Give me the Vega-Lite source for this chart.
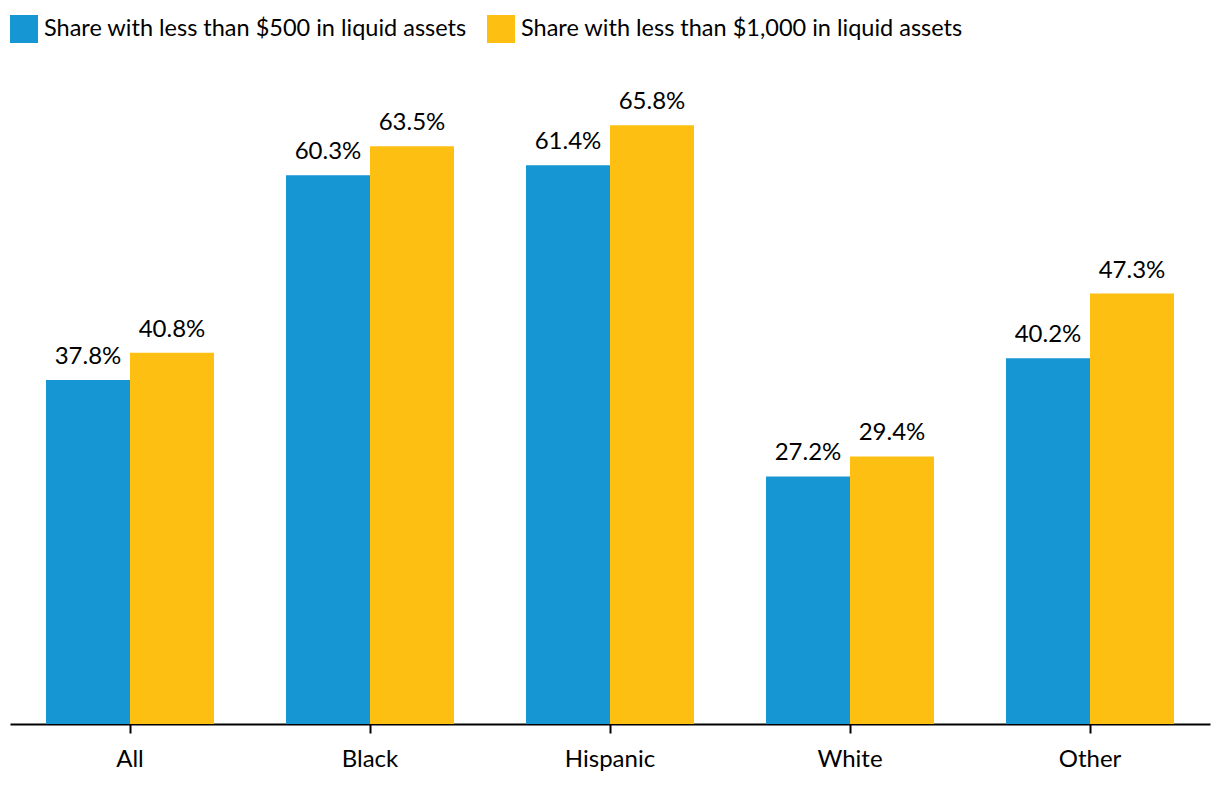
{
  "$schema": "https://vega.github.io/schema/vega-lite/v6.json",
  "autosize": {"type": "none"},
  "width": 1200,
  "height": 637,
  "padding": {"left": 10, "top": 87, "right": 10, "bottom": 68},
  "background": "white",
  "config": {
    "view": {"stroke": null},
    "font": "Lato",
    "text": {"font": "Lato"}
  },
  "data": {
    "values": [
      {"group": "All", "series": "Share with less than $500 in liquid assets", "value": 0.378},
      {"group": "All", "series": "Share with less than $1,000 in liquid assets", "value": 0.408},
      {"group": "Black", "series": "Share with less than $500 in liquid assets", "value": 0.603},
      {"group": "Black", "series": "Share with less than $1,000 in liquid assets", "value": 0.635},
      {"group": "Hispanic", "series": "Share with less than $500 in liquid assets", "value": 0.614},
      {"group": "Hispanic", "series": "Share with less than $1,000 in liquid assets", "value": 0.658},
      {"group": "White", "series": "Share with less than $500 in liquid assets", "value": 0.272},
      {"group": "White", "series": "Share with less than $1,000 in liquid assets", "value": 0.294},
      {"group": "Other", "series": "Share with less than $500 in liquid assets", "value": 0.402},
      {"group": "Other", "series": "Share with less than $1,000 in liquid assets", "value": 0.473}
    ]
  },
  "encoding": {
    "x": {
      "field": "group",
      "type": "nominal",
      "sort": ["All", "Black", "Hispanic", "White", "Other"],
      "scale": {"paddingInner": 0.3, "paddingOuter": 0.15},
      "axis": {
        "title": null,
        "labelAngle": 0,
        "labelFont": "Lato",
        "labelFontSize": 24,
        "labelColor": "#000000",
        "labelPadding": 14,
        "domainColor": "#000000",
        "domainWidth": 2,
        "tickColor": "#000000",
        "tickWidth": 2,
        "tickSize": 9,
        "grid": false
      }
    },
    "xOffset": {
      "field": "series",
      "type": "nominal",
      "sort": ["Share with less than $500 in liquid assets", "Share with less than $1,000 in liquid assets"],
      "scale": {"paddingInner": 0, "paddingOuter": 0}
    },
    "y": {
      "field": "value",
      "type": "quantitative",
      "scale": {"domain": [0, 0.7], "nice": false},
      "axis": null
    }
  },
  "layer": [
    {
      "mark": {"type": "bar"},
      "encoding": {
        "color": {
          "field": "series",
          "type": "nominal",
          "sort": ["Share with less than $500 in liquid assets", "Share with less than $1,000 in liquid assets"],
          "scale": {
            "domain": ["Share with less than $500 in liquid assets", "Share with less than $1,000 in liquid assets"],
            "range": ["#1696d2", "#fdbf11"]
          },
          "legend": {
            "title": null,
            "orient": "none",
            "direction": "horizontal",
            "legendX": 0,
            "legendY": -72,
            "symbolType": "square",
            "symbolSize": 784,
            "symbolStrokeWidth": 0,
            "symbolOpacity": 1,
            "labelFont": "Lato",
            "labelFontSize": 23.5,
            "labelColor": "#000000",
            "labelOffset": 6,
            "columnPadding": 20,
            "labelLimit": 600,
            "padding": 0
          }
        }
      }
    },
    {
      "mark": {"type": "text", "baseline": "alphabetic", "dy": -16, "fontSize": 24, "font": "Lato", "color": "#000000"},
      "encoding": {
        "text": {"field": "value", "type": "quantitative", "format": ".1%"}
      }
    }
  ]
}
